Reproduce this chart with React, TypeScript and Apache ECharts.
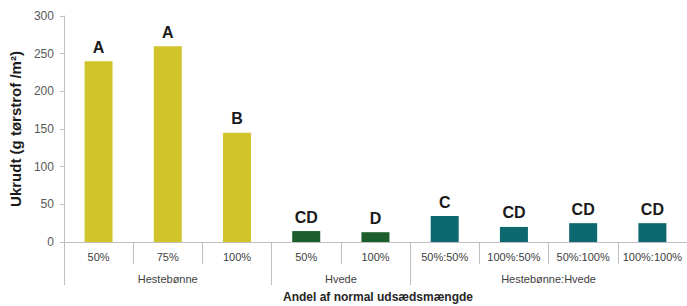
import React, { useEffect, useRef } from "react";
import * as echarts from "echarts";

const categories = ["50%", "75%", "100%", "50%", "100%", "50%:50%", "100%:50%", "50%:100%", "100%:100%"];
const values = [240, 260, 145, 14.5, 13, 34.5, 20, 25, 25];
const letters = ["A", "A", "B", "CD", "D", "C", "CD", "CD", "CD"];
const groups = ["Hestebønne", "Hvede", "Hestebønne:Hvede"];
const groupSizes = [3, 2, 4];
const groupColors = ["#D1C42A", "#1C5E2C", "#0E6870"];
const yTicks = [0, 50, 100, 150, 200, 250, 300];

const FONT = "'Liberation Sans', Arial, sans-serif";

export default function App() {
  const ref = useRef<HTMLDivElement>(null);
  useEffect(() => {
    if (!ref.current) return;
    const chart = echarts.init(ref.current, undefined, { renderer: "svg" });

    const bounds: number[] = [0];
    groupSizes.forEach((s) => bounds.push(bounds[bounds.length - 1] + s));
    const centers = groupSizes.map((s, i) => bounds[i] + s / 2);
    const groupOf: number[] = [];
    groupSizes.forEach((s, i) => {
      for (let k = 0; k < s; k++) groupOf.push(i);
    });

    const gray = "#BFBFBF";

    chart.setOption({
      animation: false,
      grid: { left: 62, top: 16, width: 631, bottom: 64, containLabel: false },
      xAxis: [
        {
          type: "category",
          data: categories,
          position: "bottom",
          axisLine: { show: true, lineStyle: { color: gray, width: 1 } },
          axisTick: { show: true, interval: 0, length: 22, lineStyle: { color: gray } },
          axisLabel: { interval: 0, margin: 9, fontSize: 11, color: "#404040", fontFamily: FONT },
          name: "",
        },
        {
          type: "value",
          min: 0,
          max: bounds[bounds.length - 1],
          position: "bottom",
          axisLine: { show: false },
          splitLine: { show: false },
          axisTick: { show: true, customValues: bounds, length: 43, lineStyle: { color: gray } },
          axisLabel: {
            show: true,
            customValues: centers,
            margin: 31,
            fontSize: 11,
            color: "#404040",
            fontFamily: FONT,
            formatter: (v: number) => {
              const i = centers.findIndex((c) => Math.abs(c - v) < 1e-6);
              return i >= 0 ? groups[i] : "";
            },
          },
        },
      ],
      yAxis: {
        type: "value",
        min: 0,
        max: 300,
        interval: 50,
        axisLine: { show: true, lineStyle: { color: gray } },
        axisTick: { show: true, length: 4, lineStyle: { color: gray } },
        splitLine: { show: false },
        axisLabel: {
          margin: 10,
          fontSize: 12,
          color: "#595959",
          fontFamily: FONT,
          customValues: yTicks,
        },
        name: "Ukrudt (g tørstrof /m²)",
        nameLocation: "middle",
        nameGap: 27,
        nameRotate: 90,
        nameTextStyle: { fontSize: 15, fontWeight: "bold", color: "#1a1a1a", fontFamily: FONT },
      },
      graphic: [
        {
          type: "text",
          left: 385 - 102,
          top: 291,
          style: {
            text: "Andel af normal udsædsmængde",
            fontSize: 12,
            fontWeight: "bold",
            fill: "#262626",
            fontFamily: FONT,
          },
        },
      ],
      series: [
        {
          type: "bar",
          xAxisIndex: 0,
          barWidth: 28,
          data: values.map((v, i) => ({
            value: v,
            itemStyle: { color: groupColors[groupOf[i]] },
            label: { formatter: letters[i] },
          })),
          label: {
            show: true,
            position: "top",
            distance: 6,
            fontSize: 16,
            fontWeight: "bold",
            color: "#1a1a1a",
            fontFamily: FONT,
          },
        },
      ],
    });
    return () => chart.dispose();
  }, []);
  return <div ref={ref} style={{ position: "absolute", left: 0, top: 0, width: 687, height: 306 }} />;
}
